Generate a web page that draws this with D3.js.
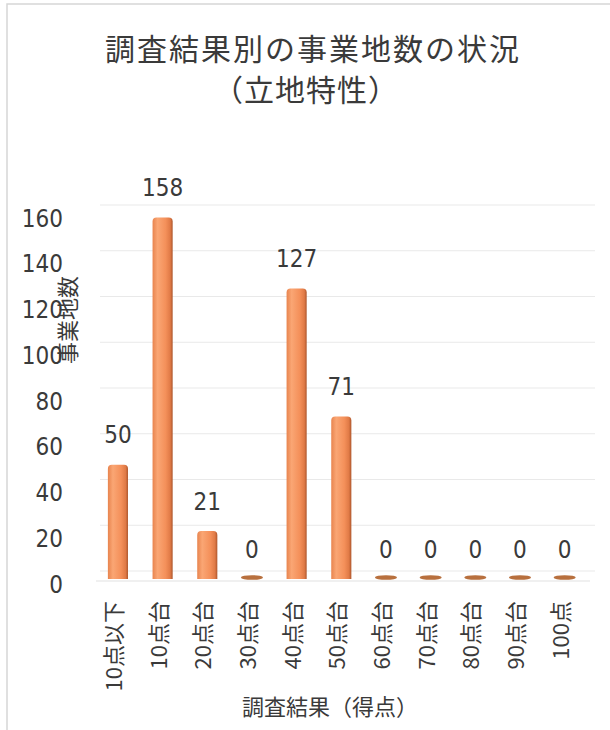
<!DOCTYPE html>
<html>
<head>
<meta charset="utf-8">
<script src="https://cdn.jsdelivr.net/npm/d3@7"></script>
<style>
  html, body { margin: 0; padding: 0; background: #fff; }
  svg { display: block; }
</style>
</head>
<body>
<svg id="chart" width="610" height="730"></svg>
<script>
const categories = ["10点以下", "10点台", "20点台", "30点台", "40点台", "50点台", "60点台", "70点台", "80点台", "90点台", "100点"];
const values = [50, 158, 21, 0, 127, 71, 0, 0, 0, 0, 0];
const yTicks = [0, 20, 40, 60, 80, 100, 120, 140, 160];
const titleLines = ["調査結果別の事業地数の状況", "（立地特性）"];
const yTitle = "事業地数";
const xTitle = "調査結果（得点）";

const svg = d3.select("#chart");
const W = 610, H = 730;
const cjk = "'Noto Sans CJK JP', 'Noto Sans', sans-serif";
const num = "'DejaVu Sans Condensed', 'DejaVu Sans', sans-serif";
const textColor = "#3a3a3a";

svg.append("rect").attr("width", W).attr("height", H).attr("fill", "#fff");
svg.append("rect").attr("x", 7).attr("y", 4).attr("width", 700).attr("height", 800)
  .attr("fill", "none").attr("stroke", "#d6d6d6").attr("stroke-width", 1.5);

const defs = svg.append("defs");
const grad = defs.append("linearGradient").attr("id", "barGrad").attr("x1", "0").attr("x2", "1").attr("y1", "0").attr("y2", "0");
[["0%", "#E8844E"], ["25%", "#FAA674"], ["65%", "#F4905A"], ["88%", "#E07A46"], ["100%", "#AD562C"]]
  .forEach(([o, c]) => grad.append("stop").attr("offset", o).attr("stop-color", c));

const x = d3.scaleBand().domain(categories).range([95.6, 587]).paddingInner(0.55).paddingOuter(0.275);
const y = d3.scaleLinear().domain([0, 160]).range([579, 213]);

// gridlines (back wall, slightly raised)
svg.append("g").selectAll("line").data(yTicks).join("line")
  .attr("x1", 100).attr("x2", 595)
  .attr("y1", d => y(d) - 8).attr("y2", d => y(d) - 8)
  .attr("stroke", "#e9e9e9").attr("stroke-width", 1.2);
// floor line
svg.append("line").attr("x1", 96).attr("x2", 590).attr("y1", y(0) + 2).attr("y2", y(0) + 2)
  .attr("stroke", "#e2e2e2").attr("stroke-width", 1.2);

// y axis
const yAxis = svg.append("g").attr("transform", "translate(63,0)")
  .call(d3.axisLeft(y).tickValues(yTicks).tickSize(0).tickPadding(0));
yAxis.select(".domain").remove();
yAxis.selectAll("text").attr("font-family", num).attr("font-size", 24).attr("fill", textColor)
  .attr("dy", "0.55em").attr("text-anchor", "end");

// x axis labels (rotated)
const xAxis = svg.append("g").attr("transform", `translate(-4,${y(0) + 22})`)
  .call(d3.axisBottom(x).tickSize(0).tickPadding(0));
xAxis.select(".domain").remove();
xAxis.selectAll("text")
  .attr("font-family", cjk).attr("font-size", 22).attr("fill", textColor)
  .attr("transform", "rotate(-90)")
  .attr("text-anchor", "end").attr("x", 0).attr("y", 0).attr("dy", "0.36em");

// bars
const bw = x.bandwidth();
const nonZero = categories.map((c, i) => ({ c, v: values[i] })).filter(d => d.v > 0);
const zero = categories.map((c, i) => ({ c, v: values[i] })).filter(d => d.v === 0);

svg.append("g").selectAll("path").data(nonZero).join("path")
  .attr("d", d => {
    const x0 = x(d.c), x1 = x0 + bw, top = y(d.v), bot = y(0), r = 4;
    return `M${x0},${bot} L${x0},${top + r} Q${x0},${top} ${x0 + r},${top} L${x1 - r},${top} Q${x1},${top} ${x1},${top + r} L${x1},${bot} Z`;
  })
  .attr("fill", "url(#barGrad)");

svg.append("g").selectAll("ellipse").data(zero).join("ellipse")
  .attr("cx", d => x(d.c) + bw / 2).attr("cy", y(0) - 1.5)
  .attr("rx", bw / 2 + 1).attr("ry", 2.3)
  .attr("fill", "#B8703E");

// data labels
svg.append("g").selectAll("text").data(categories.map((c, i) => ({ c, v: values[i] }))).join("text")
  .attr("x", d => x(d.c) + bw / 2)
  .attr("y", d => y(d.v) - 30)
  .attr("dy", "0.36em")
  .attr("text-anchor", "middle")
  .attr("font-family", num).attr("font-size", 24).attr("fill", textColor)
  .text(d => d.v);

// title
svg.append("text").attr("x", 313).attr("y", 49).attr("dy", "0.36em").attr("text-anchor", "middle")
  .attr("font-family", cjk).attr("font-size", 30).attr("font-weight", 400).attr("letter-spacing", "2px").attr("fill", textColor)
  .text(titleLines[0]);
svg.append("text").attr("x", 306).attr("y", 90).attr("dy", "0.36em").attr("text-anchor", "middle")
  .attr("font-family", cjk).attr("font-size", 30).attr("font-weight", 400).attr("letter-spacing", "1px").attr("fill", textColor)
  .text(titleLines[1]);

// axis titles
svg.append("text").attr("transform", "translate(68,320) rotate(-90)").attr("dy", "0.36em")
  .attr("text-anchor", "middle").attr("font-family", cjk).attr("font-size", 22).attr("fill", textColor)
  .text(yTitle);
svg.append("text").attr("x", 330).attr("y", 707).attr("dy", "0.36em").attr("text-anchor", "middle")
  .attr("font-family", cjk).attr("font-size", 22).attr("fill", textColor)
  .text(xTitle);
</script>
</body>
</html>
